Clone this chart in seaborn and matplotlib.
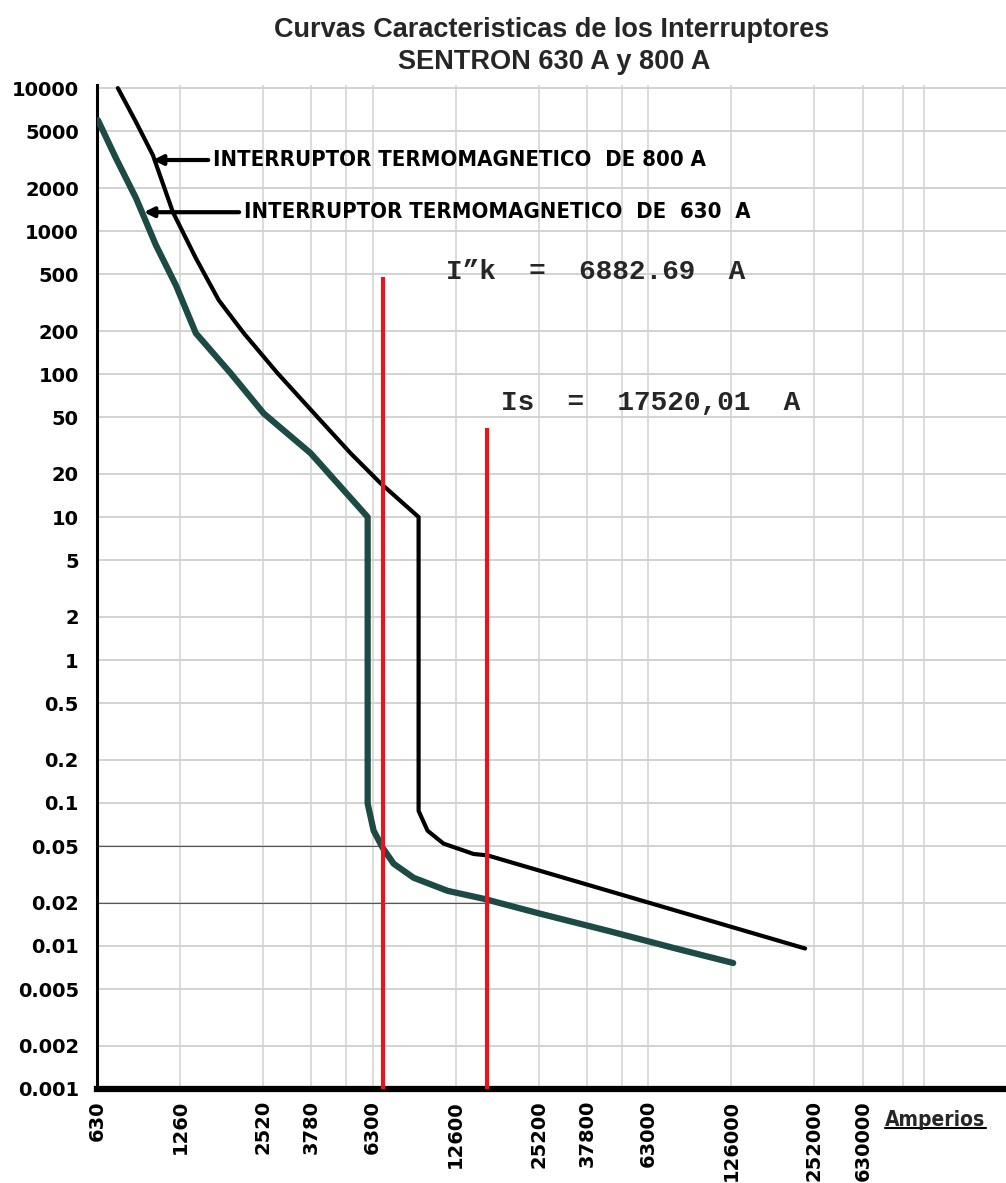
import numpy as np
import pandas as pd
import matplotlib
matplotlib.use("Agg")
import matplotlib.pyplot as plt
import seaborn as sns
from matplotlib.lines import Line2D

# curva del interruptor de 800 A (amperios, segundos)
amp_800 = [750, 873, 1005, 1188, 1439, 1743, 2148, 2852, 3982, 5243, 6737, 9248,
           9248, 9967, 11390, 14630, 16450, 233500]
seg_800 = [10000, 5780, 3396, 1355, 646, 328, 193, 101, 49.8, 27.9, 17.2, 10,
           0.088, 0.064, 0.052, 0.044, 0.043, 0.0096]

# curva del interruptor de 630 A
amp_630 = [635, 738, 873, 1031, 1218, 1439, 1927, 2537, 3757, 6043,
           6043, 6353, 6850, 7509, 8870, 11780, 15900, 25580, 44750, 77630, 128000]
seg_630 = [5970, 3236, 1698, 796, 418, 193, 101, 53, 27.9, 10,
           0.099, 0.064, 0.0486, 0.0376, 0.030, 0.0243, 0.0214, 0.0168, 0.0128, 0.0097, 0.0076]

# corrientes de cortocircuito marcadas
ik_amp = 6882.69
ik_top = 480
is_amp = 16400   # (la etiqueta dice 17520,01)
is_top = 42
t_ik = 0.05
t_is = 0.02

y_ticks = [10000, 5000, 2000, 1000, 500, 200, 100, 50, 20, 10, 5, 2, 1, 0.5, 0.2, 0.1,
           0.05, 0.02, 0.01, 0.005, 0.002, 0.001]
y_labels = ['10000', '5000', '2000', '1000', '500', '200', '100', '50', '20', '10', '5', '2',
            '1', '0.5', '0.2', '0.1', '0.05', '0.02', '0.01', '0.005', '0.002', '0.001']
# en el original la etiqueta 630000 esta sobre la linea de 378000
x_ticks = [630, 1260, 2520, 3780, 6300, 12600, 25200, 37800, 63000, 126000, 252000, 378000]
x_labels = ['630', '1260', '2520', '3780', '6300', '12600', '25200', '37800', '63000',
            '126000', '252000', '630000']
x_grid = [1260, 2520, 3780, 5040, 6300, 12600, 25200, 37800, 50400, 63000,
          126000, 252000, 378000, 529000, 630000]

sns.set_theme(style='white')
plt.rcParams['font.family'] = ['DejaVu Sans']

fig = plt.figure(figsize=(10.06, 11.83), dpi=100)
ax = fig.add_axes([0.0964, 0.0795, 0.9036, 0.8486])
ax.set_xscale('log')
ax.set_yscale('log')
ax.set_xlim(630, 1.25e6)
ax.set_ylim(0.001, 10500)

# cuadricula del papel
for v in y_ticks:
    ax.axhline(v, color='#c6c6c6', lw=1.1, zorder=0)
for v in x_grid:
    ax.axvline(v, color='#d2d2d2', lw=1.1, zorder=0)

ax.hlines(t_ik, 630, ik_amp, color='#555555', lw=0.8, zorder=1)
ax.hlines(t_is, 630, is_amp, color='#555555', lw=0.8, zorder=1)

df630 = pd.DataFrame({'A': amp_630, 's': seg_630})
df800 = pd.DataFrame({'A': amp_800, 's': seg_800})
sns.lineplot(data=df630, x='A', y='s', estimator=None, sort=False, color='#1d4a45',
             lw=4.5, ax=ax, zorder=3)
sns.lineplot(data=df800, x='A', y='s', estimator=None, sort=False, color='black',
             lw=3, ax=ax, zorder=4)

ax.vlines(ik_amp, 0.001, ik_top, color='#e8161c', lw=3, zorder=5)
ax.vlines(is_amp, 0.001, is_top, color='#e8161c', lw=3, zorder=5)

lbl = dict(fontsize=15.8, fontweight='bold', family='DejaVu Sans', fontstretch='condensed',
           va='center', ha='left', color='black')
flecha = dict(arrowstyle='-|>', color='black', lw=3, shrinkA=1, shrinkB=0, mutation_scale=14)
ax.annotate('INTERRUPTOR TERMOMAGNETICO  DE 800 A', xy=(1005, 3140), xytext=(1659, 3140),
            arrowprops=flecha, **lbl)
ax.annotate('INTERRUPTOR TERMOMAGNETICO  DE  630  A', xy=(932, 1355), xytext=(2148, 1355),
            arrowprops=flecha, **lbl)

ax.text(11600, 515, 'I\u201dk  =  6882.69  A', family='Liberation Mono', fontsize=20,
        fontweight='bold', va='center', ha='left')
ax.text(18340, 62.5, 'Is  =  17520,01  A', family='Liberation Mono', fontsize=20,
        fontweight='bold', va='center', ha='left')

ax.set_yticks(y_ticks)
ax.set_yticklabels(y_labels)
ax.set_xticks(x_ticks)
ax.set_xticklabels(x_labels, rotation=90, va='top', ha='center')
ax.set_xticks([630000], minor=True)
ax.tick_params(axis='both', which='major', length=0, labelsize=14, colors='black')
ax.tick_params(axis='x', which='major', pad=8)
ax.tick_params(axis='y', which='major', pad=13)
ax.tick_params(axis='x', which='minor', direction='in', length=8, width=2, color='black')
ax.tick_params(axis='y', which='minor', length=0)
for t in ax.get_xticklabels() + ax.get_yticklabels():
    t.set_fontweight('bold')

for s in ['top', 'right']:
    ax.spines[s].set_visible(False)
ax.spines['left'].set_linewidth(2.2)
ax.spines['left'].set_color('black')
ax.spines['bottom'].set_linewidth(4.5)
ax.spines['bottom'].set_color('black')
ax.set_xlabel('')
ax.set_ylabel('')

fig.text(0.548, 1 - 30 / 1183, 'Curvas Caracteristicas de los Interruptores', ha='center',
         va='center', fontsize=19.5, fontweight='bold', family='Liberation Sans')
fig.text(0.551, 1 - 62 / 1183, 'SENTRON 630 A y 800 A', ha='center', va='center',
         fontsize=19.5, fontweight='bold', family='Liberation Sans')

amp = fig.text(0.88, 1 - 1120 / 1183, 'Amperios', ha='left', va='center', fontsize=15,
               fontweight='bold', family='DejaVu Sans', fontstretch='condensed')
fig.canvas.draw()
bb = amp.get_window_extent().transformed(fig.transFigure.inverted())
fig.add_artist(Line2D([bb.x0, bb.x1], [bb.y0 + 0.002, bb.y0 + 0.002], color='black',
                      lw=1.5, transform=fig.transFigure))

fig.savefig('out.png', dpi=100, facecolor='white')
